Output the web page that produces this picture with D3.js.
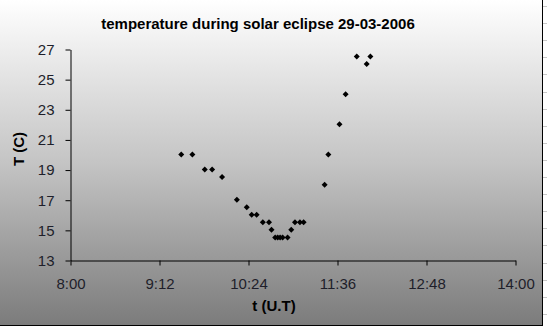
<!DOCTYPE html>
<html>
<head>
<meta charset="utf-8">
<script src="https://cdn.jsdelivr.net/npm/d3@7"></script>
<style>
  html, body { margin: 0; padding: 0; background: #fff; }
  svg { display: block; font-family: "Liberation Sans", Arial, sans-serif; }
</style>
</head>
<body>
<svg id="chart" width="547" height="327"></svg>
<script>
// Observation times (minutes after midnight, U.T.) and temperatures (°C)
const times = [
  570, 579, 589, 595, 603, 615, 623, 627, 631, 636, 641, 643,
  646, 648, 650, 652, 656, 659, 662, 666, 669, 686, 689, 698,
  703, 712, 720, 723
];
const temps = [
  20, 20, 19, 19, 18.5, 17, 16.5, 16, 16, 15.5, 15.5, 15,
  14.5, 14.5, 14.5, 14.5, 14.5, 15, 15.5, 15.5, 15.5, 18, 20, 22,
  24, 26.5, 26, 26.5
];
const xTicks = [480, 552, 624, 696, 768, 840];
const yTicks = [13, 15, 17, 19, 21, 23, 25, 27];

const titleText = "temperature during solar eclipse 29-03-2006";
const xTitle = "t (U.T)";
const yTitle = "T (C)";

const svg = d3.select("#chart");

// Chart-area fill: vertical white-to-gray gradient
const defs = svg.append("defs");
const grad = defs.append("linearGradient")
  .attr("id", "bg").attr("x1", 0).attr("y1", 0).attr("x2", 0).attr("y2", 1);
grad.append("stop").attr("offset", "0%").attr("stop-color", "#ffffff");
grad.append("stop").attr("offset", "50%").attr("stop-color", "#c4c4c4");
grad.append("stop").attr("offset", "100%").attr("stop-color", "#7b7b7b");

svg.append("rect").attr("x", 0).attr("y", 0).attr("width", 542).attr("height", 326)
  .attr("fill", "url(#bg)");
// frame on the right and bottom edges
svg.append("line").attr("x1", 542.5).attr("x2", 542.5).attr("y1", 0).attr("y2", 326)
  .attr("stroke", "#000").attr("stroke-width", 1);
svg.append("line").attr("x1", 0).attr("x2", 543).attr("y1", 325.5).attr("y2", 325.5)
  .attr("stroke", "#000").attr("stroke-width", 1);
// sheet gridline stubs beyond the frame
const stubs = d3.range(6, 327, 17.1);
svg.selectAll("line.stub").data(stubs).enter().append("line")
  .attr("class", "stub")
  .attr("x1", 543).attr("x2", 547)
  .attr("y1", d => Math.round(d) + 0.5).attr("y2", d => Math.round(d) + 0.5)
  .attr("stroke", "#c8c8c8");

const x = d3.scaleLinear().domain([480, 840]).range([70, 515]);
const y = d3.scaleLinear().domain([13, 27]).range([260, 49]);

const fmt = m => `${Math.floor(m / 60)}:${String(m % 60).padStart(2, "0")}`;

// X axis
const gx = svg.append("g").attr("transform", "translate(0.5,260.5)")
  .call(d3.axisBottom(x).tickValues(xTicks).tickFormat(fmt).tickSize(5).tickSizeOuter(0).tickPadding(13));
gx.select(".domain").attr("stroke", "#000");
gx.selectAll(".tick line").attr("stroke", "#000");
gx.selectAll(".tick text").attr("font-size", 15).attr("fill", "#1e1e2a")
  .attr("font-family", "Liberation Sans, Arial, sans-serif");

// Y axis
const gy = svg.append("g").attr("transform", "translate(70.5,0.5)")
  .call(d3.axisLeft(y).tickValues(yTicks).tickSize(5).tickSizeOuter(0).tickPadding(11));
gy.select(".domain").attr("stroke", "#000");
gy.selectAll(".tick line").attr("stroke", "#000");
gy.selectAll(".tick text").attr("font-size", 15).attr("fill", "#1e1e2a")
  .attr("font-family", "Liberation Sans, Arial, sans-serif");

// Square-proportioned diamond marker
const diamond = {
  draw(ctx, size) {
    const r = Math.sqrt(size / 2);
    ctx.moveTo(0, -r);
    ctx.lineTo(r, 0);
    ctx.lineTo(0, r);
    ctx.lineTo(-r, 0);
    ctx.closePath();
  }
};

// Markers
const pts = times.map((t, i) => ({ t, v: temps[i] }));
svg.append("g").selectAll("path").data(pts).enter().append("path")
  .attr("d", d3.symbol().type(diamond).size(18))
  .attr("transform", d => `translate(${x(d.t)},${y(d.v)})`)
  .attr("fill", "#000");

// Titles
svg.append("text").attr("x", 258).attr("y", 29).attr("text-anchor", "middle")
  .attr("font-size", 15).attr("font-weight", "bold").attr("fill", "#000")
  .text(titleText);
svg.append("text").attr("x", 274).attr("y", 311).attr("text-anchor", "middle")
  .attr("font-size", 15).attr("font-weight", "bold").attr("fill", "#000")
  .text(xTitle);
svg.append("text").attr("transform", "translate(24,149) rotate(-90)")
  .attr("text-anchor", "middle")
  .attr("font-size", 15).attr("font-weight", "bold").attr("fill", "#000")
  .text(yTitle);
</script>
</body>
</html>
